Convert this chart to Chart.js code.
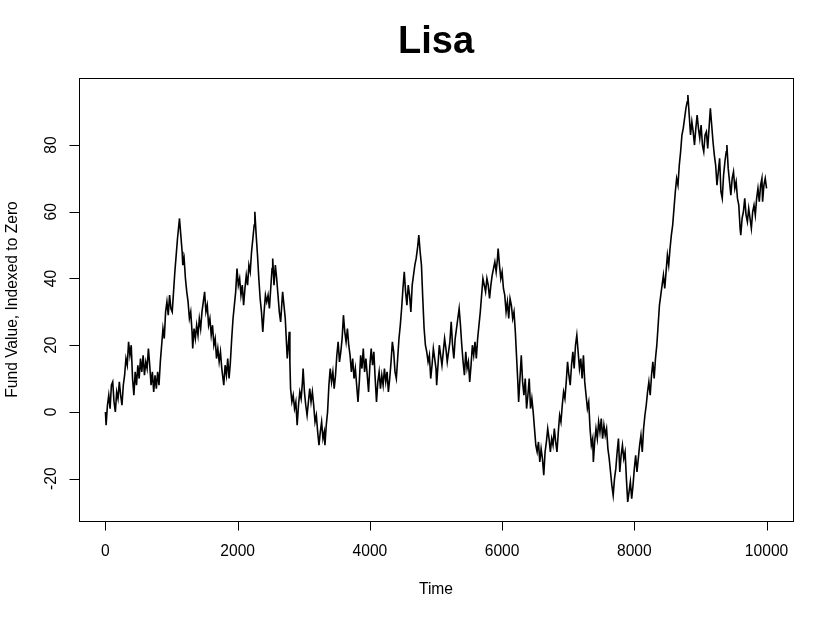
<!DOCTYPE html>
<html>
<head>
<meta charset="utf-8">
<script src="https://cdn.jsdelivr.net/npm/chart.js@4/dist/chart.umd.min.js"></script>
<style>
  html, body { margin: 0; padding: 0; background: #fff; }
  #wrap { width: 833px; height: 619px; }
</style>
</head>
<body>
<div id="wrap"><canvas id="c" width="833" height="619"></canvas></div>
<script>
// ---- data: [time, fund value] ----
const walk = [
[0,0],[10,-4],[30,2],[50,5],[70,1],[90,8],[110,9],[130,3],[150,0],[170,6],[190,4],[210,9],[230,5],[250,2],[270,8],[290,11],
[310,16],[330,14],[350,21],[370,17],[390,20],[410,10],[430,5],[450,12],[470,8],[490,14],[510,10],[530,16],[550,12],[570,17],
[590,11],[610,15],[630,13],[650,19],[670,14],[690,8],[710,12],[730,6],[750,11],[770,7],[790,12],[810,8],[830,15],[850,20],
[870,25],[890,22],[910,30],[930,33],[950,29],[970,35],[990,31],[1010,30],[1030,36],[1050,42],[1070,47],[1090,52],[1110,56],
[1120,58],[1140,53],[1160,48],[1170,44],[1190,46],[1210,40],[1230,36],[1250,33],[1270,28],[1290,30],[1310,24],[1320,19],
[1340,25],[1360,22],[1380,26],[1400,23],[1420,28],[1440,25],[1460,30],[1480,33],[1500,36],[1520,30],[1540,32],[1560,26],
[1580,28],[1600,23],[1620,26],[1640,20],[1660,22],[1680,16],[1700,19],[1720,15],[1740,18],[1760,13],[1790,8],[1810,14],
[1830,11],[1850,16],[1870,10],[1890,15],[1910,22],[1930,28],[1950,32],[1970,36],[1990,43],[2010,38],[2030,40],[2050,35],
[2070,38],[2090,32],[2110,37],[2130,41],[2150,38],[2170,44],[2190,42],[2210,48],[2230,52],[2250,56],[2260,60],[2280,53],
[2300,47],[2320,40],[2340,34],[2360,30],[2380,24],[2400,30],[2420,35],[2440,33],[2460,35],[2480,31],[2500,37],[2520,43],
[2530,46],[2550,38],[2570,44],[2590,40],[2610,35],[2630,30],[2650,27],[2670,33],[2680,36],[2700,32],[2720,28],[2740,20],
[2750,16],[2770,21],[2780,24],[2790,15],[2800,7],[2820,3],[2840,5],[2860,1],[2880,3],[2900,-4],[2920,2],[2940,6],[2960,4],
[2980,9],[2990,13],[3010,6],[3030,2],[3050,-1],[3070,3],[3090,7],[3110,3],[3130,6],[3150,2],[3170,-3],[3190,-1],[3210,-6],
[3230,-10],[3250,-6],[3270,-3],[3290,-8],[3310,-6],[3320,-10],[3340,-4],[3360,0],[3380,8],[3400,13],[3420,9],[3440,12],
[3460,7],[3480,11],[3500,17],[3520,21],[3540,15],[3560,18],[3580,22],[3600,29],[3620,24],[3640,21],[3660,25],[3680,20],
[3700,17],[3720,12],[3740,16],[3760,10],[3780,13],[3800,8],[3820,3],[3840,9],[3860,17],[3880,13],[3900,19],[3920,12],
[3940,16],[3960,11],[3980,6],[4000,14],[4020,19],[4040,14],[4060,18],[4080,10],[4100,3],[4120,9],[4140,12],[4160,7],
[4180,11],[4200,8],[4220,13],[4240,9],[4260,12],[4280,6],[4300,10],[4320,15],[4340,21],[4360,18],[4380,12],[4400,10],
[4420,16],[4440,22],[4460,26],[4480,31],[4500,37],[4520,42],[4540,36],[4560,32],[4580,38],[4600,35],[4620,30],[4640,38],
[4660,41],[4680,44],[4700,46],[4720,49],[4740,53],[4760,48],[4780,44],[4800,34],[4820,25],[4840,20],[4860,18],[4880,15],
[4900,17],[4920,10],[4940,14],[4960,19],[4980,16],[5000,13],[5010,8],[5030,14],[5050,20],[5070,17],[5090,14],[5110,18],
[5130,22],[5150,19],[5170,15],[5190,18],[5210,21],[5230,27],[5250,20],[5270,16],[5290,22],[5310,25],[5330,28],[5350,31],
[5370,26],[5390,20],[5410,15],[5430,11],[5450,18],[5470,13],[5490,15],[5510,9],[5530,14],[5550,20],[5570,17],[5590,21],
[5610,16],[5630,22],[5650,26],[5670,30],[5690,35],[5710,40],[5730,38],[5750,36],[5770,40],[5790,38],[5810,34],[5830,38],
[5850,41],[5870,43],[5890,45],[5910,42],[5930,46],[5940,49],[5960,44],[5980,40],[6000,42],[6020,37],[6040,35],[6060,30],
[6080,33],[6100,28],[6120,34],[6140,32],[6160,28],[6180,30],[6200,24],[6220,16],[6240,8],[6250,3],[6270,10],[6290,17],
[6310,9],[6330,5],[6350,10],[6370,1],[6390,5],[6410,10],[6430,1],[6450,4],[6470,0],[6490,-5],[6510,-10],[6530,-12],
[6550,-9],[6570,-15],[6590,-11],[6610,-14],[6630,-19],[6650,-12],[6670,-9],[6690,-5],[6710,-8],[6730,-12],[6750,-8],
[6770,-10],[6790,-5],[6810,-9],[6830,-12],[6850,-6],[6870,-1],[6890,-3],[6910,2],[6930,6],[6950,4],[6970,9],[6990,15],
[7010,11],[7030,8],[7050,14],[7070,18],[7090,13],[7110,20],[7130,23],[7150,18],[7170,13],[7190,16],[7210,10],[7230,17],
[7250,9],[7270,5],[7290,1],[7310,3],[7330,-5],[7350,-10],[7370,-8],[7380,-15],[7400,-9],[7420,-5],[7440,-8],[7460,-3],
[7480,-6],[7500,-2],[7520,-8],[7540,-4],[7560,-7],[7580,-5],[7600,-11],[7620,-14],[7640,-18],[7660,-22],[7680,-25],
[7700,-20],[7720,-17],[7740,-12],[7760,-8],[7780,-18],[7800,-13],[7820,-10],[7840,-14],[7860,-12],[7880,-20],[7900,-27],
[7920,-24],[7940,-21],[7960,-26],[7980,-22],[8000,-17],[8020,-13],[8040,-18],[8060,-14],[8080,-10],[8100,-7],[8120,-12],
[8140,-5],[8160,-1],[8180,2],[8200,6],[8220,9],[8240,5],[8260,11],[8280,15],[8300,10],[8320,16],[8340,20],[8360,26],
[8380,32],[8400,35],[8420,38],[8440,41],[8460,37],[8480,42],[8500,47],[8520,44],[8540,49],[8560,53],[8580,56],[8600,61],
[8620,66],[8640,70],[8660,68],[8680,74],[8700,78],[8720,83],[8740,85],[8760,88],[8780,91],[8800,93],[8810,95],[8830,89],
[8850,83],[8870,87],[8890,84],[8910,80],[8930,85],[8950,89],[8970,85],[8990,82],[9010,86],[9030,80],[9050,78],[9070,83],
[9090,84],[9110,79],[9130,85],[9150,91],[9170,86],[9190,81],[9210,77],[9230,74],[9250,68],[9270,72],[9290,76],[9310,66],
[9330,64],[9350,71],[9370,75],[9390,78],[9400,80],[9420,73],[9440,69],[9460,65],[9480,70],[9500,72],[9520,67],[9540,69],
[9560,64],[9580,62],[9600,55],[9610,53],[9630,58],[9650,60],[9670,64],[9690,59],[9710,57],[9730,61],[9750,58],[9770,55],
[9790,60],[9810,62],[9830,59],[9850,64],[9870,67],[9890,63],[9910,68],[9930,70],[9940,63],[9960,68],[9980,70],[10000,67]
];
const time = walk.map(p => p[0]);
const fundValue = walk.map(p => p[1]);
const xTicks = [0, 2000, 4000, 6000, 8000, 10000];
const yTicks = [-20, 0, 20, 40, 60, 80];
const titleText = "Lisa";
const xTitle = "Time";
const yTitle = "Fund Value, Indexed to Zero";

const FONT = '"Liberation Sans", Arial, Helvetica, sans-serif';

const rAxes = {
  id: 'rAxes',
  afterDraw(chart) {
    const ctx = chart.ctx;
    const a = chart.chartArea;
    const xs = chart.scales.x, ys = chart.scales.y;
    ctx.save();
    ctx.strokeStyle = '#000';
    ctx.lineWidth = 1;
    ctx.strokeRect(Math.round(a.left) + 0.5, Math.round(a.top) + 0.5,
                   Math.round(a.right - a.left), Math.round(a.bottom - a.top));
    ctx.fillStyle = '#000';
    ctx.font = '15.6px ' + FONT;
    ctx.textAlign = 'center';
    ctx.textBaseline = 'alphabetic';
    const by = Math.round(a.bottom) + 0.5;
    ctx.beginPath();
    ctx.moveTo(Math.round(xs.getPixelForValue(xTicks[0])) + 0.5, by);
    ctx.lineTo(Math.round(xs.getPixelForValue(xTicks[xTicks.length - 1])) + 0.5, by);
    xTicks.forEach(t => {
      const px = Math.round(xs.getPixelForValue(t)) + 0.5;
      ctx.moveTo(px, by);
      ctx.lineTo(px, by + 9);
    });
    ctx.stroke();
    xTicks.forEach(t => {
      ctx.fillText(String(t), xs.getPixelForValue(t), 556);
    });
    const lx = Math.round(a.left) + 0.5;
    ctx.beginPath();
    ctx.moveTo(lx, Math.round(ys.getPixelForValue(yTicks[0])) + 0.5);
    ctx.lineTo(lx, Math.round(ys.getPixelForValue(yTicks[yTicks.length - 1])) + 0.5);
    yTicks.forEach(v => {
      const py = Math.round(ys.getPixelForValue(v)) + 0.5;
      ctx.moveTo(lx, py);
      ctx.lineTo(lx - 10, py);
    });
    ctx.stroke();
    yTicks.forEach(v => {
      ctx.save();
      ctx.translate(56, ys.getPixelForValue(v));
      ctx.rotate(-Math.PI / 2);
      ctx.fillText(String(v), 0, 0);
      ctx.restore();
    });
    ctx.fillText(xTitle, (a.left + a.right) / 2, 594);
    ctx.save();
    ctx.translate(17, (a.top + a.bottom) / 2);
    ctx.rotate(-Math.PI / 2);
    ctx.fillText(yTitle, 0, 0);
    ctx.restore();
    ctx.font = 'bold 38px ' + FONT;
    ctx.fillText(titleText, (a.left + a.right) / 2, 53);
    ctx.restore();
  }
};

new Chart(document.getElementById('c'), {
  type: 'line',
  data: {
    datasets: [{
      data: time.map((t, i) => ({ x: t, y: fundValue[i] })),
      borderColor: '#000',
      borderWidth: 1.6,
      pointRadius: 0,
      tension: 0,
      fill: false
    }]
  },
  options: {
    responsive: false,
    animation: false,
    events: [],
    layout: { padding: { left: 79, right: 40, top: 78, bottom: 98 } },
    plugins: { legend: { display: false }, tooltip: { enabled: false }, title: { display: false } },
    scales: {
      x: { type: 'linear', min: -400, max: 10400, display: false },
      y: { type: 'linear', min: -32.7, max: 100.1, display: false }
    }
  },
  plugins: [rAxes]
});
</script>
</body>
</html>
